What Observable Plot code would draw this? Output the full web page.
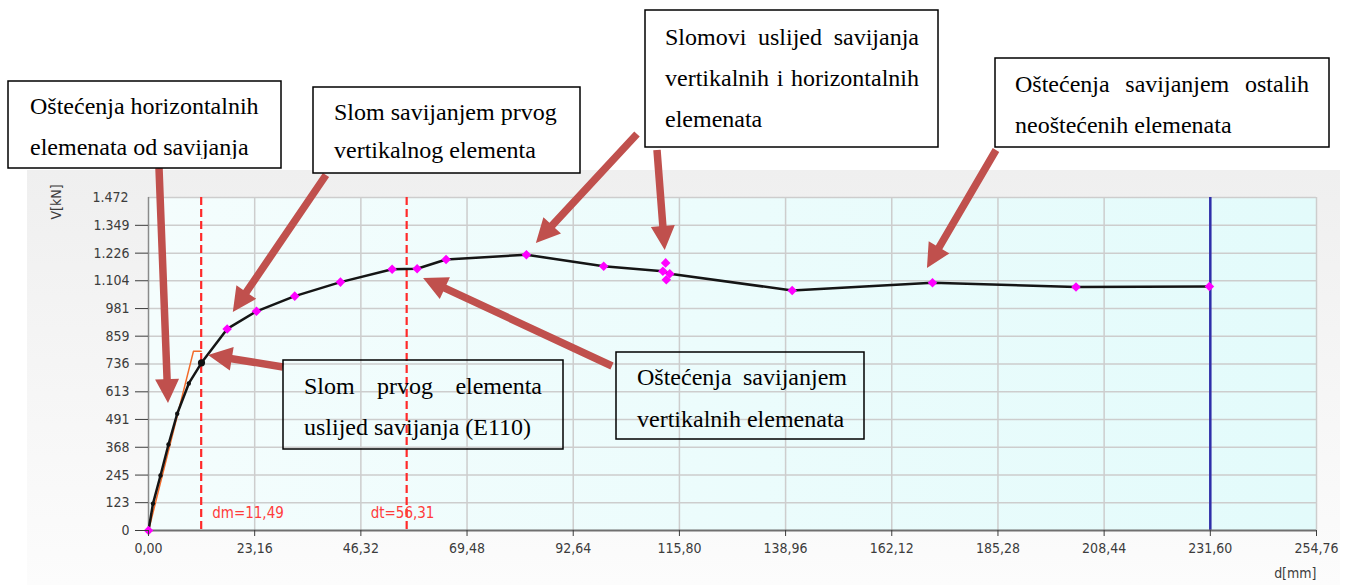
<!DOCTYPE html>
<html>
<head>
<meta charset="utf-8">
<script src="https://cdn.jsdelivr.net/npm/d3@7"></script>
<script src="https://cdn.jsdelivr.net/npm/@observablehq/plot@0.6"></script>
<style>
  body { margin: 0; background: #fff; }
  #chart svg { display: block; }
</style>
</head>
<body>
<div id="chart"></div>
<script>
// Force–displacement response V(d) of the pushover analysis

// elastic branch (small black nodes)
const elasticD = [0.98, 2.62, 4.36, 6.26, 8.79];
const elasticV = [119, 243, 380, 516, 650];
// first element failure (E110)
const failureD = [11.56];
const failureV = [741];
// subsequent steps (magenta nodes)
const stepD = [17.16, 23.55, 31.9, 41.87, 53.14, 58.59, 64.91, 82.43, 99.28, 112.2, 113.7, 140.4, 171.0, 202.3, 231.4];
const stepV = [891, 969, 1036, 1098, 1155, 1157, 1198, 1219, 1168, 1146, 1135, 1061, 1095, 1076, 1079];
// extra nodes at the same displacement step
const extraD = [112.8, 112.95];
const extraV = [1183, 1108];
// bilinear idealisation
const bilinD = [0, 9.8, 11.49];
const bilinV = [0, 792, 792];
// characteristic displacements
const dm = 11.49;
const dt = 56.31;
const dLimit = 231.6;

const xTicks = [0, 23.16, 46.32, 69.48, 92.64, 115.8, 138.96, 162.12, 185.28, 208.44, 231.6, 254.76];
const xTickLabels = ["0,00", "23,16", "46,32", "69,48", "92,64", "115,80", "138,96", "162,12", "185,28", "208,44", "231,60", "254,76"];
const yTicks = [0, 123, 245, 368, 491, 613, 736, 859, 981, 1104, 1226, 1349, 1472];
const yTickLabels = ["0", "123", "245", "368", "491", "613", "736", "859", "981", "1.104", "1.226", "1.349", "1.472"];

const noteTexts = [
  ["Oštećenja horizontalnih", "elemenata od savijanja"],
  ["Slom savijanjem prvog", "vertikalnog elementa"],
  ["Slomovi uslijed savijanja", "vertikalnih i horizontalnih", "elemenata"],
  ["Oštećenja savijanjem ostalih", "neoštećenih elemenata"],
  ["Slom prvog elementa", "uslijed savijanja (E110)"],
  ["Oštećenja savijanjem", "vertikalnih elemenata"]
];

// ---- tables for the marks
const curve = [{d: 0, v: 0}]
  .concat(elasticD.map((d, i) => ({d, v: elasticV[i]})))
  .concat(failureD.map((d, i) => ({d, v: failureV[i]})))
  .concat(stepD.map((d, i) => ({d, v: stepV[i]})));
const elastic = elasticD.map((d, i) => ({d, v: elasticV[i]}));
const failure = failureD.map((d, i) => ({d, v: failureV[i]}));
const diamonds = [{d: 0, v: 0}]
  .concat(stepD.map((d, i) => ({d, v: stepV[i]})))
  .concat(extraD.map((d, i) => ({d, v: extraV[i]})));
const bilinear = bilinD.map((d, i) => ({d, v: bilinV[i]}));
const comma = (v) => v.toFixed(2).replace(".", ",");

const axisFont = "'DejaVu Sans Condensed', 'DejaVu Sans', sans-serif";
const xFmt = (d) => xTickLabels[xTicks.indexOf(d)];
const yFmt = (d) => yTickLabels[yTicks.indexOf(d)];

const plot = Plot.plot({
  width: 1352,
  height: 585,
  marginLeft: 148,
  marginRight: 36,
  marginTop: 197,
  marginBottom: 55,
  style: {fontFamily: axisFont, fontSize: "14px", fontStretch: "condensed", background: "transparent", overflow: "visible"},
  x: {domain: [0, 254.76], axis: null},
  y: {domain: [0, 1472], axis: null},
  marks: [
    Plot.ruleX(xTicks.slice(1), {stroke: "#cdcdcd", strokeWidth: 1.5}),
    Plot.ruleY(yTicks.slice(1), {stroke: "#cdcdcd", strokeWidth: 1.5}),
    Plot.line(bilinear, {x: "d", y: "v", stroke: "#f26b2a", strokeWidth: 1.5}),
    Plot.ruleX([dm, dt], {stroke: "#ff2a2a", strokeWidth: 2.2, strokeDasharray: "8,4"}),
    Plot.ruleX([dLimit], {stroke: "#2e2eaa", strokeWidth: 2.5}),
    Plot.ruleX([0], {stroke: "#8a8a8a", strokeWidth: 1.5}),
    Plot.ruleY([0], {stroke: "#6f6f6f", strokeWidth: 2}),
    Plot.line(curve, {x: "d", y: "v", stroke: "#151515", strokeWidth: 2.5}),
    Plot.dot(elastic, {x: "d", y: "v", r: 2.2, fill: "#111", stroke: "none"}),
    Plot.dot(failure, {x: "d", y: "v", r: 3.6, fill: "#111", stroke: "none"}),
    Plot.dot(diamonds, {x: "d", y: "v", symbol: "diamond2", r: 4.3, fill: "#ff00ff", stroke: "none"}),
    Plot.text([dm], {x: (d) => d, text: (d) => `dm=${comma(d)}`, frameAnchor: "bottom", dy: -13, dx: 11, textAnchor: "start", fill: "#ff3b3b", fontSize: 15}),
    Plot.text([dt], {x: (d) => d, text: (d) => `dt=${comma(d)}`, frameAnchor: "bottom", dy: -13, dx: -36, textAnchor: "start", fill: "#ff3b3b", fontSize: 15}),
    Plot.axisX(xTicks, {tickFormat: xFmt, tickSize: 6, tickPadding: 7, color: "#3c3c3c", label: null}),
    Plot.axisY(yTicks.slice(0, -1), {tickSize: 13, tickPadding: 6, tickFormat: yFmt, color: "#3c3c3c", label: null}),
    Plot.axisY(yTicks.slice(-1), {tickSize: 0, tickPadding: 20, tickFormat: yFmt, color: "#3c3c3c", label: null}),
    Plot.text(["V[kN]"], {frameAnchor: "top-left", dx: -97, dy: 22, rotate: -90, fill: "#3c3c3c"}),
    Plot.text(["d[mm]"], {frameAnchor: "bottom-right", dy: 47, textAnchor: "end", fill: "#3c3c3c"})
  ]
});

document.getElementById("chart").appendChild(plot);

// ---- backgrounds and annotations
const NS = "http://www.w3.org/2000/svg";
function el(name, attrs, parent) {
  const e = document.createElementNS(NS, name);
  for (const k in attrs) e.setAttribute(k, attrs[k]);
  if (parent) parent.appendChild(e);
  return e;
}
const sx = plot.scale("x"), sy = plot.scale("y");
const X = d3.scaleLinear(sx.domain, sx.range);
const Y = d3.scaleLinear(sy.domain, sy.range);
const [x0, x1] = sx.range, [y0, y1] = sy.range;

const back = el("g", {});
const defs = el("defs", {}, back);
const gPanel = el("linearGradient", {id: "panelFill", x1: 0, y1: 0, x2: 0, y2: 1}, defs);
el("stop", {offset: "0%", "stop-color": "#efefef"}, gPanel);
el("stop", {offset: "100%", "stop-color": "#fcfcfc"}, gPanel);
const gArea = el("linearGradient", {id: "areaFill", x1: 0, y1: 0, x2: 1, y2: 0}, defs);
el("stop", {offset: "0%", "stop-color": "#f4fdfd"}, gArea);
el("stop", {offset: "100%", "stop-color": "#e3fbfb"}, gArea);
el("rect", {x: 27, y: 170, width: 1313, height: 415, fill: "url(#panelFill)"}, back);
el("rect", {x: Math.min(x0, x1), y: Math.min(y0, y1), width: Math.abs(x1 - x0), height: Math.abs(y1 - y0), fill: "url(#areaFill)"}, back);
plot.insertBefore(back, plot.firstChild);

const over = el("g", {"text-anchor": "start"}, plot);

// arrows: tail in page pixels, tip at a point of the chart
const arrows = [
  {from: [159, 168], to: [4.36, 561]},
  {from: [326, 175], to: [18.5, 964]},
  {from: [637, 134], to: [84.6, 1269]},
  {from: [657, 150], to: [112.7, 1238]},
  {from: [996, 150], to: [169.9, 1158]},
  {from: [283, 367], to: [13.1, 774]},
  {from: [612, 366], to: [60.0, 1114]}
];
const shaft = 7.5, headLen = 24, headHalf = 12;
for (const a of arrows) {
  const [tx, ty] = a.from;
  const px = X(a.to[0]), py = Y(a.to[1]);
  const len = Math.hypot(px - tx, py - ty);
  const ux = (px - tx) / len, uy = (py - ty) / len;
  const nx = -uy, ny = ux;
  const bx = px - ux * headLen, by = py - uy * headLen;
  const w = shaft / 2;
  const pts = [
    [tx + nx * w, ty + ny * w], [bx + nx * w, by + ny * w], [bx + nx * headHalf, by + ny * headHalf],
    [px, py],
    [bx - nx * headHalf, by - ny * headHalf], [bx - nx * w, by - ny * w], [tx - nx * w, ty - ny * w]
  ];
  el("polygon", {points: pts.map((p) => p.join(",")).join(" "), fill: "#c0504d"}, over);
}

// text boxes
const boxes = [
  {x: 8, y: 81, w: 273, h: 87, fill: "#fff", tx: 30, base: [114, 155], clip: 159},
  {x: 313, y: 87, w: 267, h: 86, fill: "#fff", tx: 334, base: [120, 158], clip: 163},
  {x: 645, y: 10, w: 293, h: 137, fill: "#fff", tx: 665, base: [45, 86, 127], justify: 254},
  {x: 995, y: 58, w: 334, h: 89, fill: "#fff", tx: 1015, base: [92, 133], justify: 294},
  {x: 283, y: 360, w: 280, h: 89, fill: "none", tx: 304, base: [394, 435], justify: 238},
  {x: 616, y: 352, w: 248, h: 87, fill: "none", tx: 637, base: [385, 427], justify: 210}
];
boxes.forEach((b, i) => {
  const g = el("g", {}, over);
  el("rect", {x: b.x, y: b.y, width: b.w, height: b.h, fill: b.fill, stroke: "#000", "stroke-width": 1.5}, g);
  let parent = g;
  if (b.clip) {
    const cp = el("clipPath", {id: "noteClip" + i}, defs);
    el("rect", {x: b.x, y: b.y, width: b.w, height: b.clip - b.y}, cp);
    parent = el("g", {"clip-path": `url(#noteClip${i})`}, g);
  }
  const lines = noteTexts[i];
  lines.forEach((line, j) => {
    const t = el("text", {x: b.tx, y: b.base[j], "text-anchor": "start", "font-family": "'Liberation Serif', 'Times New Roman', serif", "font-size": 24, fill: "#000"}, parent);
    t.textContent = line;
    if (b.justify && j < lines.length - 1) {
      const natural = t.getComputedTextLength();
      const spaces = (line.match(/ /g) || []).length;
      if (spaces > 0 && natural < b.justify) t.setAttribute("word-spacing", (b.justify - natural) / spaces);
    }
  });
});
</script>
</body>
</html>
